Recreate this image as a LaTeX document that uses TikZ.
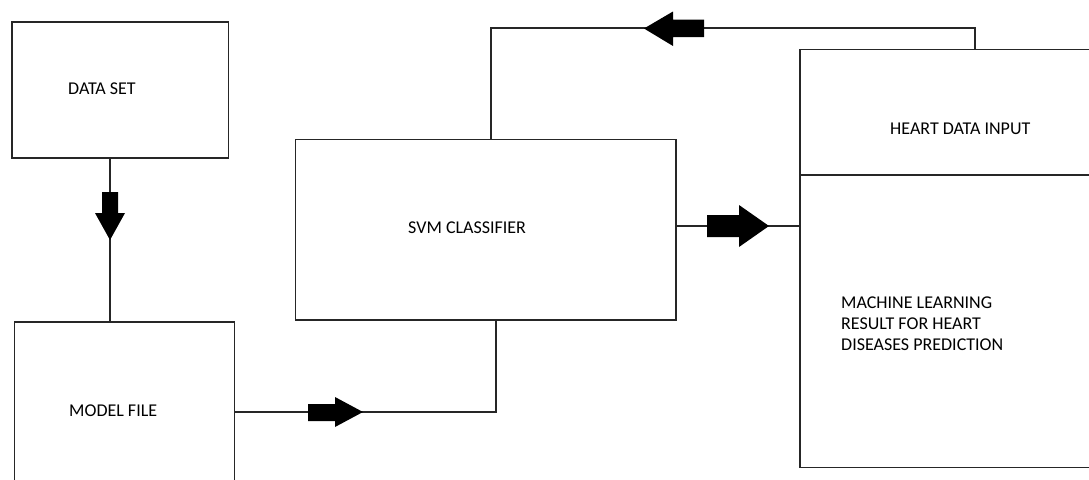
\documentclass[tikz,border=0pt]{standalone}
\usepackage{fontspec}
\setmainfont{Carlito}
\begin{document}
\begin{tikzpicture}[x=1pt,y=-1pt,
    box/.style={draw=black!85, line width=1.2pt, inner sep=0pt, outer sep=0pt, anchor=north west},
    lbl/.style={anchor=west, inner sep=0pt, text=black, font=\fontsize{18}{21}\selectfont, align=left},
    wire/.style={draw=black!85, line width=1.2pt},
    blockarrow/.style={fill=black}]
  \useasboundingbox (0,0) rectangle (1089,479);
  \clip (0,0) rectangle (1089,479);

  % boxes
  \node[box, minimum width=216.7pt, minimum height=136pt] (ds) at (12,22) {};
  \node[box, minimum width=220pt, minimum height=180pt] (mf) at (14.3,322) {};
  \node[box, minimum width=380.3pt, minimum height=180.7pt] (svm) at (295.7,139.3) {};
  \node[box, minimum width=300pt, minimum height=125.7pt] (heart) at (800,49.3) {};
  \node[box, minimum width=300pt, minimum height=292.7pt] (res) at (800,175) {};

  % labels
  \node[lbl] (dsl) at (68,89) {DATA SET};
  \node[lbl] (mfl) at (69,411) {MODEL FILE};
  \node[lbl] (svml) at (408,228) {SVM CLASSIFIER};
  \node[lbl] (heartl) at (890,129) {HEART DATA INPUT};
  \node[lbl] (resl) at (841,324) {MACHINE LEARNING\\RESULT FOR HEART\\DISEASES PREDICTION};

  % routing helpers
  \coordinate (xa) at (110,0);
  \coordinate (xb) at (496,0);
  \coordinate (xc) at (491,0);
  \coordinate (topc) at (975,28);
  \coordinate (ya) at (0,226);

  % connectors
  \draw[wire] (xa |- ds.south) -- (xa |- mf.north);
  \draw[wire] (mf.east) -| (xb |- svm.south);
  \draw[wire] (xc |- svm.north) |- (topc) -- (topc |- heart.north);
  \draw[wire] (svm.east |- ya) -- (res.west |- ya);

  % block arrows on the connectors
  \fill[blockarrow] (102,192) -- (118,192) -- (118,213) -- (125,213) -- (110,240) -- (95,213) -- (102,213) -- cycle;
  \fill[blockarrow] (308,404) -- (335,404) -- (335,397) -- (363,412) -- (335,427) -- (335,421) -- (308,421) -- cycle;
  \fill[blockarrow] (644,28.5) -- (673,11.5) -- (673,19.5) -- (704,19.5) -- (704,37) -- (673,37) -- (673,46) -- cycle;
  \fill[blockarrow] (707,215) -- (739,215) -- (739,205) -- (769,226) -- (739,247) -- (739,237) -- (707,237) -- cycle;
\end{tikzpicture}
\end{document}
